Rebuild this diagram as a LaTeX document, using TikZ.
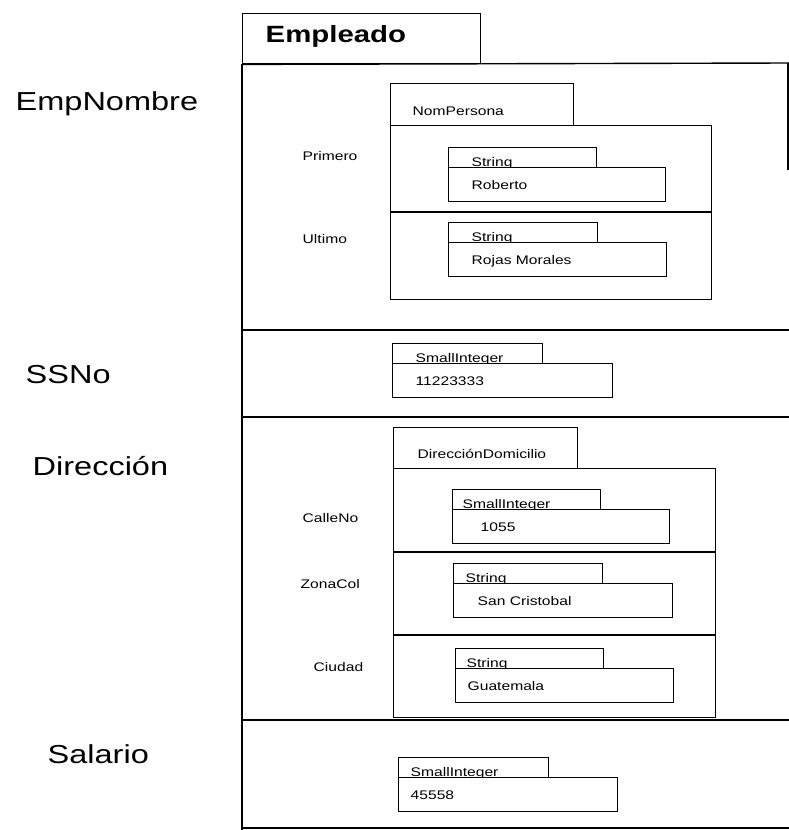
\documentclass[tikz,border=0pt]{standalone}
\usepackage{fontspec}
\setmainfont{Liberation Sans}[FakeStretch=1.25]
\usetikzlibrary{positioning}

\begin{document}
\begin{tikzpicture}
  [x=1pt,y=-1pt,line width=1.4pt,
   every node/.style={inner sep=0pt,anchor=base west},
   attr/.style={font=\fontsize{26}{30}\selectfont},
   field/.style={font=\fontsize{12.5}{15}\selectfont},
   frame/.style={draw,rectangle,inner sep=0pt,anchor=north west},
   valbox/.style={frame,fill=white}]
  \useasboundingbox (0,0) rectangle (789,830);

  % Empleado
  \node[frame,minimum width=238pt,minimum height=50pt] (empTab) at (242,13) {};
  \node[font=\bfseries\fontsize{23.5}{28}\selectfont] (empLbl) at (265,42) {Empleado};
  \draw (empTab.south west) -- (789,63);
  \draw (empTab.south west) -- (242,830);
  \draw (788,63) -- (788,170);
  \foreach \y in {330,417,720,828}
    \draw (242,\y) -- (789,\y);

  \node[attr] (empNombre) at (15,110) {EmpNombre};
  \node[attr] (ssNo) at (25,383) {SSNo};
  \node[attr] (direccion) at (32,475) {Dirección};
  \node[attr] (salario) at (47,763) {Salario};

  % NomPersona
  \node[frame,minimum width=183pt,minimum height=42pt] (nomTab) at (390,83) {};
  \node[field] (nomLbl) at (412,115) {NomPersona};
  \node[frame,minimum width=321pt,minimum height=174pt] (nomBody) at (390,125) {};
  \draw (390,212) -- (711,212);
  \node[field] (primero) at (302,160) {Primero};
  \node[field] (ultimo) at (302,243) {Ultimo};

  % DireccionDomicilio
  \node[frame,minimum width=184pt,minimum height=41pt] (dirTab) at (393,427) {};
  \node[field] (dirLbl) at (417,458) {DirecciónDomicilio};
  \node[frame,minimum width=322pt,minimum height=249pt] (dirBody) at (393,468) {};
  \draw (393,552) -- (715,552);
  \draw (393,635) -- (715,635);
  \node[field] (calleNo) at (302,522) {CalleNo};
  \node[field] (zonaCol) at (300,588) {ZonaCol};
  \node[field] (ciudad) at (313,671) {Ciudad};

  % type tab + value box
  \foreach \x/\y/\tw/\vw/\tx/\vx/\typ/\val [count=\i] in {
      448/147/148/217/23/23/String/Roberto,
      448/222/149/218/23/23/String/Rojas Morales,
      392/343/150/220/23/23/SmallInteger/11223333,
      452/489/148/217/10/28/SmallInteger/1055,
      453/563/149/219/12/24/String/San Cristobal,
      455/648/148/218/11/12/String/Guatemala,
      398/757/150/219/12/12/SmallInteger/45558}
  {
    \node[frame,minimum width=\tw pt,minimum height=20pt] (typ\i) at (\x,\y) {};
    \node[field] (typLbl\i) at (\x+\tx,\y+19) {\typ};
    \node[valbox,minimum width=\vw pt,minimum height=34pt] (val\i) at (\x,\y+20) {};
    \node[field] (valLbl\i) at (\x+\vx,\y+42) {\val};
  }
\end{tikzpicture}
\end{document}
